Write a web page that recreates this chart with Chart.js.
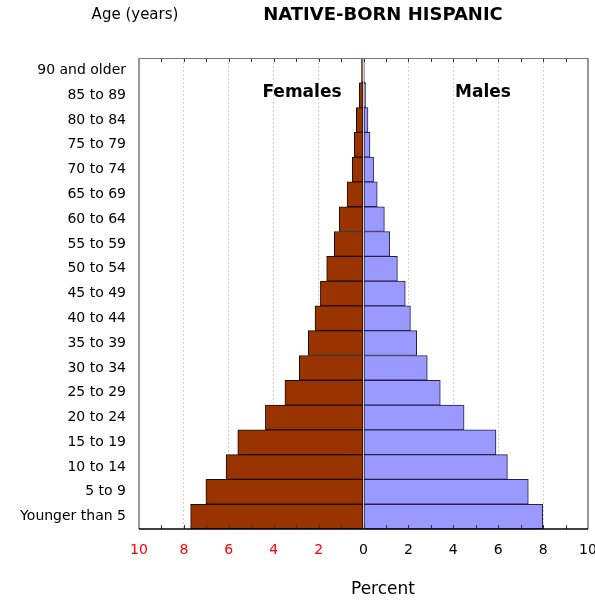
<!DOCTYPE html>
<html>
<head>
<meta charset="utf-8">
<script src="https://cdn.jsdelivr.net/npm/chart.js@4/dist/chart.umd.min.js"></script>
<style>
  html, body { margin: 0; padding: 0; background: #fff; }
  #wrap { width: 595px; height: 602px; position: relative; }
</style>
</head>
<body>
<div id="wrap"><canvas id="myChart" width="595" height="602"></canvas></div>
<script>
// age groups, top to bottom
const ageGroups = ['90 and older','85 to 89','80 to 84','75 to 79','70 to 74','65 to 69',
  '60 to 64','55 to 59','50 to 54','45 to 49','40 to 44','35 to 39','30 to 34',
  '25 to 29','20 to 24','15 to 19','10 to 14','5 to 9','Younger than 5'];

// percent of population
const females = [0.09,0.19,0.32,0.41,0.50,0.73,1.08,1.30,1.64,1.92,2.16,2.46,2.86,3.50,4.37,5.60,6.12,7.02,7.70];
const males   = [0.06,0.10,0.20,0.29,0.45,0.61,0.93,1.17,1.51,1.86,2.09,2.37,2.84,3.42,4.48,5.90,6.41,7.34,7.98];

const xTicks = [-10,-8,-6,-4,-2,0,2,4,6,8,10];

const FONT = 'DejaVu Sans, Verdana, sans-serif';

// frame, tick marks and the free texts
const decor = {
  id: 'decor',
  afterDatasetsDraw(chart) {
    const ctx = chart.ctx, a = chart.chartArea, x = chart.scales.x;
    ctx.save();
    // ticks top and bottom, inward
    for (let v = -10; v <= 10; v++) {
      const px = Math.round(x.getPixelForValue(v)) + 0.5;
      ctx.strokeStyle = '#333';
      ctx.lineWidth = 1;
      ctx.beginPath();
      ctx.moveTo(px, a.bottom); ctx.lineTo(px, a.bottom - 4);
      ctx.moveTo(px, a.top); ctx.lineTo(px, a.top + 4);
      ctx.stroke();
    }
    // frame
    ctx.strokeStyle = '#999';
    ctx.lineWidth = 2;
    ctx.beginPath();
    ctx.moveTo(a.left, a.top); ctx.lineTo(a.left, a.bottom);
    ctx.moveTo(a.right, a.top); ctx.lineTo(a.right, a.bottom);
    ctx.stroke();
    ctx.strokeStyle = '#777';
    ctx.lineWidth = 1;
    ctx.beginPath();
    ctx.moveTo(a.left, a.top + 0.5); ctx.lineTo(a.right, a.top + 0.5);
    ctx.stroke();
    ctx.strokeStyle = '#000';
    ctx.lineWidth = 1.5;
    ctx.beginPath();
    ctx.moveTo(a.left, a.bottom); ctx.lineTo(a.right, a.bottom);
    ctx.stroke();

    // texts
    ctx.fillStyle = '#000';
    ctx.textAlign = 'center';
    ctx.textBaseline = 'middle';
    ctx.font = '15px ' + FONT;
    ctx.fillText('Age (years)', 135, 15);
    ctx.font = '17px ' + FONT;
    ctx.fillText('Percent', 383, 590);
    ctx.font = 'bold 18px ' + FONT;
    ctx.fillText('NATIVE-BORN HISPANIC', 383, 15);
    ctx.font = 'bold 17px ' + FONT;
    ctx.fillText('Females', 302, 93);
    ctx.fillText('Males', 483, 93);
    ctx.restore();
  }
};

let myChart = new Chart(document.getElementById('myChart'), {
  type: 'bar',
  data: {
    labels: ageGroups,
    datasets: [
      {
        label: 'Females',
        data: females.map(v => -v),
        backgroundColor: '#993300',
        borderColor: '#1a0a00',
        borderWidth: 1,
        borderSkipped: false
      },
      {
        label: 'Males',
        data: males,
        backgroundColor: '#9999ff',
        borderColor: '#222244',
        borderWidth: 1,
        borderSkipped: false
      }
    ]
  },
  options: {
    indexAxis: 'y',
    responsive: false,
    animation: false,
    devicePixelRatio: 1,
    layout: { padding: { top: 58, right: 7, left: 0, bottom: 0 } },
    plugins: {
      legend: { display: false },
      tooltip: { enabled: false }
    },
    datasets: { bar: { barPercentage: 1, categoryPercentage: 1 } },
    scales: {
      x: {
        stacked: true,
        min: -10,
        max: 10,
        afterBuildTicks: s => { s.ticks = xTicks.map(v => ({ value: v })); },
        afterFit: s => { s.height = 73; s.paddingRight = 0; s.paddingLeft = 0; },
        ticks: {
          padding: 13,
          maxRotation: 0,
          font: { family: FONT, size: 14 },
          color: c => c.tick.value < 0 ? '#ff0000' : '#000',
          callback: v => Math.abs(v)
        },
        grid: {
          drawTicks: false,
          color: c => (Math.abs(c.tick.value) === 10 || c.tick.value === 0) ? 'rgba(0,0,0,0)' : '#d0d0d0',
          lineWidth: 1
        },
        border: { display: false, dash: [2, 2] }
      },
      y: {
        stacked: true,
        afterFit: s => { s.width = 139; },
        ticks: {
          padding: 13,
          autoSkip: false,
          font: { family: FONT, size: 14 },
          color: '#000'
        },
        grid: { display: false, drawTicks: false },
        border: { display: false }
      }
    }
  },
  plugins: [decor]
});
</script>
</body>
</html>
